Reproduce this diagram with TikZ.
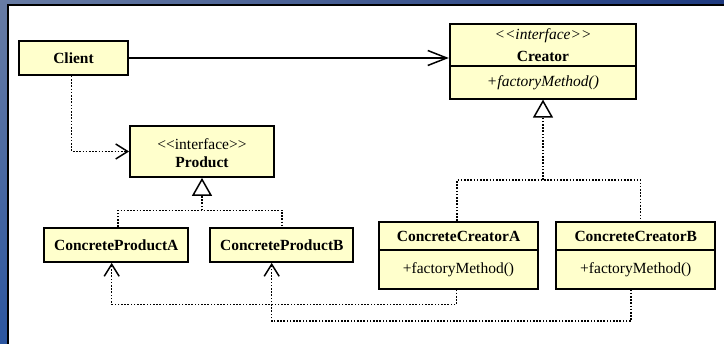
\documentclass[tikz,border=0pt]{standalone}
\usepackage{fontspec}
\setmainfont{Liberation Serif}
\usetikzlibrary{arrows.meta, shadings}

\definecolor{classfill}{HTML}{FFFFCC}
\definecolor{frameA}{RGB}{104,124,164}
\definecolor{frameB}{RGB}{30,58,128}
\definecolor{frameC}{RGB}{44,86,160}
\definecolor{frameD}{RGB}{34,70,146}

\tikzset{
  cls/.style={draw=black, line width=1.8pt, fill=classfill, rectangle, inner sep=0pt},
  txt/.style={inner sep=0pt, font=\fontsize{15.5}{18}\selectfont},
  conn/.style={line width=1.5pt},
  dots/.style={conn, dash pattern=on 1.6pt off 1.6pt},
  assoc/.style={conn, -{Straight Barb[length=19pt, width=15pt, line width=1.5pt]}},
  depend/.style={dots, -{Straight Barb[length=12pt, width=15pt, line width=1.5pt]}},
  realize/.style={dots, -{Triangle[open, length=18pt, width=20pt, line width=1.5pt, fill=white]}},
}

\begin{document}
\begin{tikzpicture}[x=1pt, y=-1pt]
  \useasboundingbox (0,0) rectangle (724,344);

  % window frame
  \shade[upper left=frameA, upper right=frameB, lower left=frameC, lower right=frameD]
    (0,0) rectangle (724,344);
  \fill[white] (8,5.5) rectangle (724,344);
  \draw[black, line width=2pt] (7.5,344) -- (7.5,5) -- (724,5);

  % classes
  \node[cls, minimum width=109pt, minimum height=34pt] (client) at (73.5,58) {};
  \node[txt, font=\fontsize{15.5}{18}\selectfont\bfseries] (clientName) at (client.center) {Client};

  \node[cls, minimum width=144pt, minimum height=51pt] (product) at (202,151.5) {};
  \node[txt] (productStereo) at (202,144) {<{}<interface>{}>};
  \node[txt, font=\fontsize{15.5}{18}\selectfont\bfseries] (productName) at (202,162.5) {Product};

  \node[cls, minimum width=144pt, minimum height=34pt] (cpa) at (116.3,245) {};
  \node[txt, font=\fontsize{15.5}{18}\selectfont\bfseries] (cpaName) at (cpa.center) {ConcreteProductA};

  \node[cls, minimum width=143pt, minimum height=34pt] (cpb) at (281.8,245) {};
  \node[txt, font=\fontsize{15.5}{18}\selectfont\bfseries] (cpbName) at (cpb.center) {ConcreteProductB};

  \node[cls, minimum width=186.6pt, minimum height=74.4pt] (creator) at (543,61.5) {};
  \draw[line width=1.8pt] (creator.west |- 0,66) -- (creator.east |- 0,66);
  \node[txt, font=\fontsize{15.5}{18}\selectfont\itshape] (creatorStereo) at (543,35.5) {<{}<interface>{}>};
  \node[txt, font=\fontsize{15.5}{18}\selectfont\bfseries] (creatorName) at (543,56) {Creator};
  \node[txt, font=\fontsize{15.5}{18}\selectfont\itshape] (creatorOp) at (543,83) {+factoryMethod()};

  \node[cls, minimum width=159.6pt, minimum height=66.7pt] (cca) at (458.5,255.3) {};
  \draw[line width=1.8pt] (cca.west |- 0,250.3) -- (cca.east |- 0,250.3);
  \node[txt, font=\fontsize{15.5}{18}\selectfont\bfseries] (ccaName) at (458.5,236.5) {ConcreteCreatorA};
  \node[txt] (ccaOp) at (458.5,270) {+factoryMethod()};

  \node[cls, minimum width=159pt, minimum height=66.7pt] (ccb) at (635.8,255.3) {};
  \draw[line width=1.8pt] (ccb.west |- 0,250.3) -- (ccb.east |- 0,250.3);
  \node[txt, font=\fontsize{15.5}{18}\selectfont\bfseries] (ccbName) at (635.8,236.5) {ConcreteCreatorB};
  \node[txt] (ccbOp) at (635.8,270) {+factoryMethod()};

  % association: Client -> Creator
  \draw[assoc] (client.east) -- (client.east -| creator.west);

  % dependency: Client -> Product
  \draw[depend] ([xshift=-1.8pt]client.south) |- (product.west);

  % realization of Product
  \draw[dots] ([xshift=1.7pt]cpa.north) -- ++(0,-16.7) -| ([xshift=0.2pt]cpb.north);
  \draw[realize] ([yshift=16.7pt]cpa.north -| product.south) -- (product.south);

  % realization of Creator
  \draw[dots] ([xshift=-1.5pt]cca.north) -- ++(0,-41) -| ([xshift=4.9pt]ccb.north);
  \draw[realize] ([yshift=41pt]cca.north -| creator.south) -- (creator.south);

  % creators instantiate products
  \draw[depend] ([xshift=-2.2pt]cca.south) -- ++(0,15) -| ([xshift=-4.6pt]cpa.south);
  \draw[depend] ([xshift=-4.8pt]ccb.south) -- ++(0,31.6) -| ([xshift=-10.1pt]cpb.south);
\end{tikzpicture}
\end{document}
